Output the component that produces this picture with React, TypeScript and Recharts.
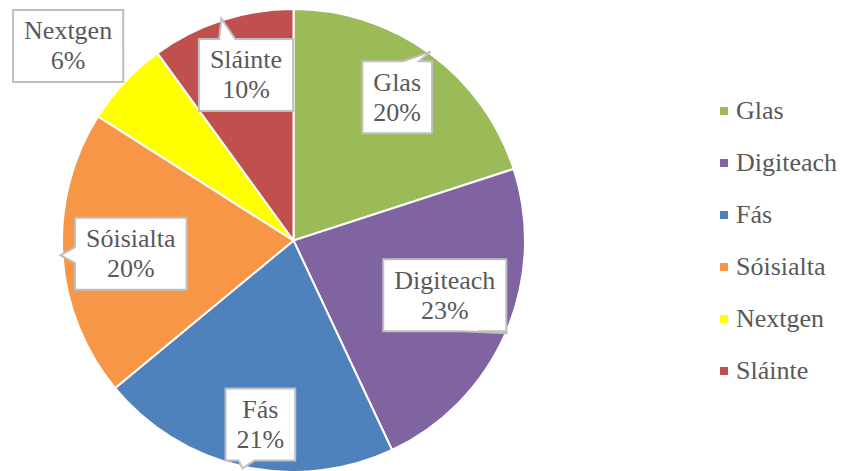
import React from 'react';
import { PieChart, Pie, Cell, Legend } from 'recharts';

const categories = ['Glas', 'Digiteach', 'Fás', 'Sóisialta', 'Nextgen', 'Sláinte'];
const shares = [20, 23, 21, 20, 6, 10];
const colors = ['#9BBB59', '#8064A2', '#4F81BD', '#F79646', '#FFFF00', '#C0504D'];

// label placement (layout only)
const labelRadiusFactor = [0.764, 0.695, 0.808, 0.705, 1.286, 0.744];
const labelAngleShift = [-0.1, -3.5, -2.4, -1.1, -2.4, 2];

const data = categories.map((name, i) => ({ name, value: shares[i] }));

const FONT = '"Liberation Serif", "Times New Roman", serif';
const FS = 26;

let ctx: CanvasRenderingContext2D | null = null;
function measure(t: string): number {
  if (!ctx) {
    const c = document.createElement('canvas');
    ctx = c.getContext('2d');
  }
  if (!ctx) return t.length * FS * 0.5;
  ctx.font = `${FS}px ${FONT}`;
  return ctx.measureText(t).width;
}

const RAD = Math.PI / 180;

function renderLabel(props: any) {
  const { cx, cy, midAngle, outerRadius, percent, index, name } = props;
  const clock = 90 - midAngle;
  const a = (clock + labelAngleShift[index]) * RAD;
  const r = labelRadiusFactor[index] * outerRadius;
  const lx = cx + r * Math.sin(a);
  const ly = cy - r * Math.cos(a);
  const pct = `${Math.round(percent * 100)}%`;
  const w = Math.max(measure(name), measure(pct)) + 22;
  const h = 72;
  const x0 = lx - w / 2, x1 = lx + w / 2, y0 = ly - h / 2, y1 = ly + h / 2;
  const tr = outerRadius + 2;
  const tx = cx + tr * Math.sin(clock * RAD);
  const ty = cy - tr * Math.cos(clock * RAD);
  const hb = 8;
  let d = '';
  const inside = tx >= x0 && tx <= x1 && ty >= y0 && ty <= y1;
  const clamp = (v: number, lo: number, hi: number) => Math.max(lo, Math.min(hi, v));
  if (inside) {
    d = `M${x0},${y0}L${x1},${y0}L${x1},${y1}L${x0},${y1}Z`;
  } else {
    const ex = tx < x0 ? (x0 - tx) / w : tx > x1 ? (tx - x1) / w : 0;
    const ey = ty < y0 ? (y0 - ty) / h : ty > y1 ? (ty - y1) / h : 0;
    if (ey >= ex) {
      const bc = clamp(tx, x0 + 0.3 * w, x1 - 0.3 * w);
      if (ty < y0) {
        d = `M${x0},${y0}L${bc - hb},${y0}L${tx},${ty}L${bc + hb},${y0}L${x1},${y0}L${x1},${y1}L${x0},${y1}Z`;
      } else {
        d = `M${x0},${y0}L${x1},${y0}L${x1},${y1}L${bc + hb},${y1}L${tx},${ty}L${bc - hb},${y1}L${x0},${y1}Z`;
      }
    } else {
      const bc = clamp(ty, y0 + 0.3 * h, y1 - 0.3 * h);
      if (tx < x0) {
        d = `M${x0},${y0}L${x1},${y0}L${x1},${y1}L${x0},${y1}L${x0},${bc + hb}L${tx},${ty}L${x0},${bc - hb}Z`;
      } else {
        d = `M${x0},${y0}L${x1},${y0}L${x1},${bc - hb}L${tx},${ty}L${x1},${bc + hb}L${x1},${y1}L${x0},${y1}Z`;
      }
    }
  }
  return (
    <g key={`lbl-${index}`}>
      <path d={d} fill="#FFFFFF" stroke="#BFBFBF" strokeWidth={2} strokeLinejoin="miter" />
      <text x={lx} y={ly - 6.5} textAnchor="middle" fontFamily={FONT} fontSize={FS} fill="#595959">
        {name}
      </text>
      <text x={lx} y={ly + 23.5} textAnchor="middle" fontFamily={FONT} fontSize={FS} fill="#595959">
        {pct}
      </text>
    </g>
  );
}

function LegendContent() {
  return (
    <div style={{ fontFamily: FONT, fontSize: FS, color: '#595959' }}>
      {categories.map((c, i) => (
        <div key={c} style={{ height: 52, display: 'flex', alignItems: 'center' }}>
          <span style={{ display: 'inline-block', width: 8, height: 8, background: colors[i], marginRight: 8 }} />
          <span style={{ lineHeight: '26px' }}>{c}</span>
        </div>
      ))}
    </div>
  );
}

export default function App() {
  return (
    <div style={{ position: 'absolute', left: 0, top: 0, width: 842, height: 471, background: '#fff', overflow: 'hidden' }}>
      <PieChart width={842} height={471} margin={{ top: 0, right: 0, bottom: 0, left: 0 }}>
        <Pie
          data={data}
          dataKey="value"
          nameKey="name"
          cx={293.5}
          cy={240.5}
          outerRadius={231.5}
          startAngle={90}
          endAngle={-270}
          stroke="#FFFFFF"
          strokeWidth={2}
          label={renderLabel}
          labelLine={false}
          isAnimationActive={false}
        >
          {data.map((d, i) => (
            <Cell key={d.name} fill={colors[i]} />
          ))}
        </Pie>
        <Legend
          content={<LegendContent />}
          wrapperStyle={{ position: 'absolute', left: 720, top: 85, width: 122 }}
        />
      </PieChart>
    </div>
  );
}
